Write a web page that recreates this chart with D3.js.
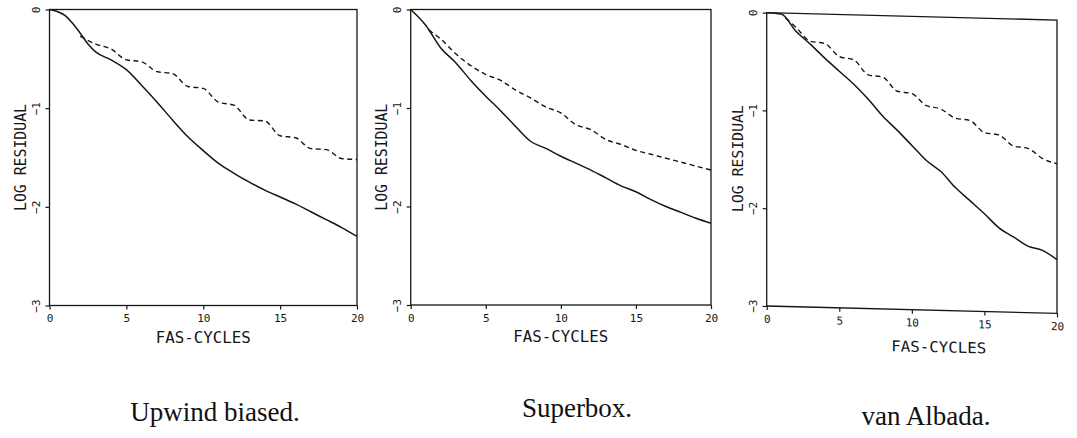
<!DOCTYPE html>
<html>
<head>
<meta charset="utf-8">
<script src="https://cdn.jsdelivr.net/npm/d3@7"></script>
<style>
  body { margin: 0; background: #fff; }
  svg { display: block; }
</style>
</head>
<body>
<div id="chart"></div>
<script>
// Data (log10 residual vs. FAS cycles)
const xTicks = [0, 5, 10, 15, 20];
const yTicks = [0, -1, -2, -3];
const titles = ['Upwind biased.', 'Superbox.', 'van Albada.'];

const upwindSolidX = [0, 0.5, 1, 1.5, 2, 2.5, 3, 4, 5, 6, 7, 8, 9, 10, 11, 12, 13, 14, 15, 16, 17, 18, 19, 20];
const upwindSolid = [0, -0.02, -0.06, -0.14, -0.24, -0.35, -0.43, -0.51, -0.61, -0.77, -0.94, -1.12, -1.29, -1.43, -1.56, -1.66, -1.75, -1.83, -1.90, -1.97, -2.05, -2.13, -2.21, -2.30];
const upwindDashedX = [2, 3, 4, 5, 6, 7, 8, 9, 10, 11, 12, 13, 14, 15, 16, 17, 18, 19, 20];
const upwindDashed = [-0.27, -0.35, -0.40, -0.51, -0.53, -0.63, -0.65, -0.78, -0.80, -0.94, -0.97, -1.12, -1.13, -1.28, -1.30, -1.41, -1.42, -1.51, -1.52];

const superboxSolidX = [0, 1, 2, 3, 4, 5, 6, 7, 8, 9, 10, 11, 12, 13, 14, 15, 16, 17, 18, 19, 20];
const superboxSolid = [0, -0.16, -0.39, -0.54, -0.72, -0.88, -1.03, -1.19, -1.34, -1.41, -1.49, -1.56, -1.63, -1.71, -1.79, -1.85, -1.93, -2.00, -2.06, -2.12, -2.17];
const superboxDashedX = [1.2, 2, 3, 4, 5, 6, 7, 8, 9, 10, 11, 12, 13, 14, 15, 16, 17, 18, 19, 20];
const superboxDashed = [-0.21, -0.30, -0.45, -0.57, -0.66, -0.72, -0.82, -0.90, -0.99, -1.05, -1.17, -1.22, -1.32, -1.37, -1.43, -1.47, -1.51, -1.55, -1.59, -1.63];

const albadaSolidX = [0, 1, 2, 3, 4, 5, 6, 7, 8, 9, 10, 11, 12, 13, 14, 15, 16, 17, 18, 19, 20];
const albadaSolid = [0, -0.01, -0.18, -0.31, -0.45, -0.58, -0.71, -0.86, -1.03, -1.17, -1.32, -1.47, -1.58, -1.74, -1.87, -2.00, -2.14, -2.23, -2.32, -2.36, -2.45];
const albadaDashedX = [1.3, 2, 3, 4, 5, 6, 7, 8, 9, 10, 11, 12, 13, 14, 15, 16, 17, 18, 19, 20];
const albadaDashed = [-0.05, -0.14, -0.28, -0.30, -0.43, -0.46, -0.61, -0.63, -0.77, -0.79, -0.91, -0.94, -1.03, -1.05, -1.17, -1.19, -1.30, -1.32, -1.42, -1.47];

const series = [
  { solidX: upwindSolidX, solid: upwindSolid, dashedX: upwindDashedX, dashed: upwindDashed },
  { solidX: superboxSolidX, solid: superboxSolid, dashedX: superboxDashedX, dashed: superboxDashed },
  { solidX: albadaSolidX, solid: albadaSolid, dashedX: albadaDashedX, dashed: albadaDashed }
];

// panel placement (the third scan is slightly sheared)
const layout = [
  { left: 49.5, top: 9.5, w: 307.5, h: 296, skew: 0, xLab: [0, 37.5], titleX: 215, titleY: 421 },
  { left: 410.7, top: 9.5, w: 300.3, h: 295.5, skew: 0, xLab: [0, 36.5], titleX: 577, titleY: 417 },
  { left: 766.7, top: 12.7, w: 290.3, h: 293.3, skew: 1.45, xLab: [27, 42], titleX: 926, titleY: 425 }
];

const ink = '#161616';
const mono = '"DejaVu Sans Mono", monospace';

const svg = d3.select('#chart')
  .append('svg')
  .attr('width', 1077)
  .attr('height', 438);

layout.forEach((p, i) => {
  const s = series[i];
  const g = svg.append('g')
    .attr('transform', `translate(${p.left},${p.top}) skewY(${p.skew})`);

  const x = d3.scaleLinear().domain([0, 20]).range([0, p.w]);
  const y = d3.scaleLinear().domain([0, -3]).range([0, p.h]);

  // frame
  g.append('rect')
    .attr('width', p.w)
    .attr('height', p.h)
    .attr('fill', 'none')
    .attr('stroke', ink)
    .attr('stroke-width', 1.3);

  // axes
  const xAxis = g.append('g')
    .attr('transform', `translate(0,${p.h})`)
    .call(d3.axisBottom(x).tickValues(xTicks).tickSize(4).tickSizeOuter(0));
  xAxis.select('.domain').remove();
  xAxis.selectAll('line').attr('stroke', ink).attr('stroke-width', 1.2);
  xAxis.selectAll('text')
    .attr('y', 9)
    .attr('fill', ink)
    .style('font-family', mono)
    .style('font-size', '11px');

  const yAxis = g.append('g')
    .call(d3.axisLeft(y).tickValues(yTicks).tickSize(4).tickSizeOuter(0).tickFormat(d3.format('d')));
  yAxis.select('.domain').remove();
  yAxis.selectAll('line').attr('stroke', ink).attr('stroke-width', 1.2);
  yAxis.selectAll('text')
    .attr('x', null)
    .attr('dy', null)
    .attr('text-anchor', 'middle')
    .attr('transform', 'translate(-10,0) rotate(-90)')
    .attr('fill', ink)
    .style('font-family', mono)
    .style('font-size', '11px');

  // axis titles
  g.append('text')
    .attr('x', p.w / 2 + p.xLab[0])
    .attr('y', p.h + p.xLab[1])
    .attr('text-anchor', 'middle')
    .attr('textLength', 95)
    .attr('lengthAdjust', 'spacingAndGlyphs')
    .attr('fill', ink)
    .style('font-family', mono)
    .style('font-size', '15px')
    .text('FAS-CYCLES');

  g.append('text')
    .attr('transform', `translate(-24,${p.h / 2}) rotate(-90)`)
    .attr('text-anchor', 'middle')
    .attr('textLength', 107)
    .attr('lengthAdjust', 'spacingAndGlyphs')
    .attr('fill', ink)
    .style('font-family', mono)
    .style('font-size', '15px')
    .text('LOG RESIDUAL');

  // curves
  const line = d3.line()
    .x(d => x(d[0]))
    .y(d => y(d[1]))
    .curve(d3.curveMonotoneX);

  g.append('path')
    .datum(d3.zip(s.solidX, s.solid))
    .attr('d', line)
    .attr('fill', 'none')
    .attr('stroke', ink)
    .attr('stroke-width', 1.5);

  g.append('path')
    .datum(d3.zip(s.dashedX, s.dashed))
    .attr('d', line)
    .attr('fill', 'none')
    .attr('stroke', ink)
    .attr('stroke-width', 1.4)
    .attr('stroke-dasharray', '5,3.5');

  // caption under each panel
  svg.append('text')
    .attr('x', p.titleX)
    .attr('y', p.titleY)
    .attr('text-anchor', 'middle')
    .attr('fill', '#111')
    .style('font-family', '"Liberation Serif", "Times New Roman", serif')
    .style('font-size', '27px')
    .text(titles[i]);
});
</script>
</body>
</html>
